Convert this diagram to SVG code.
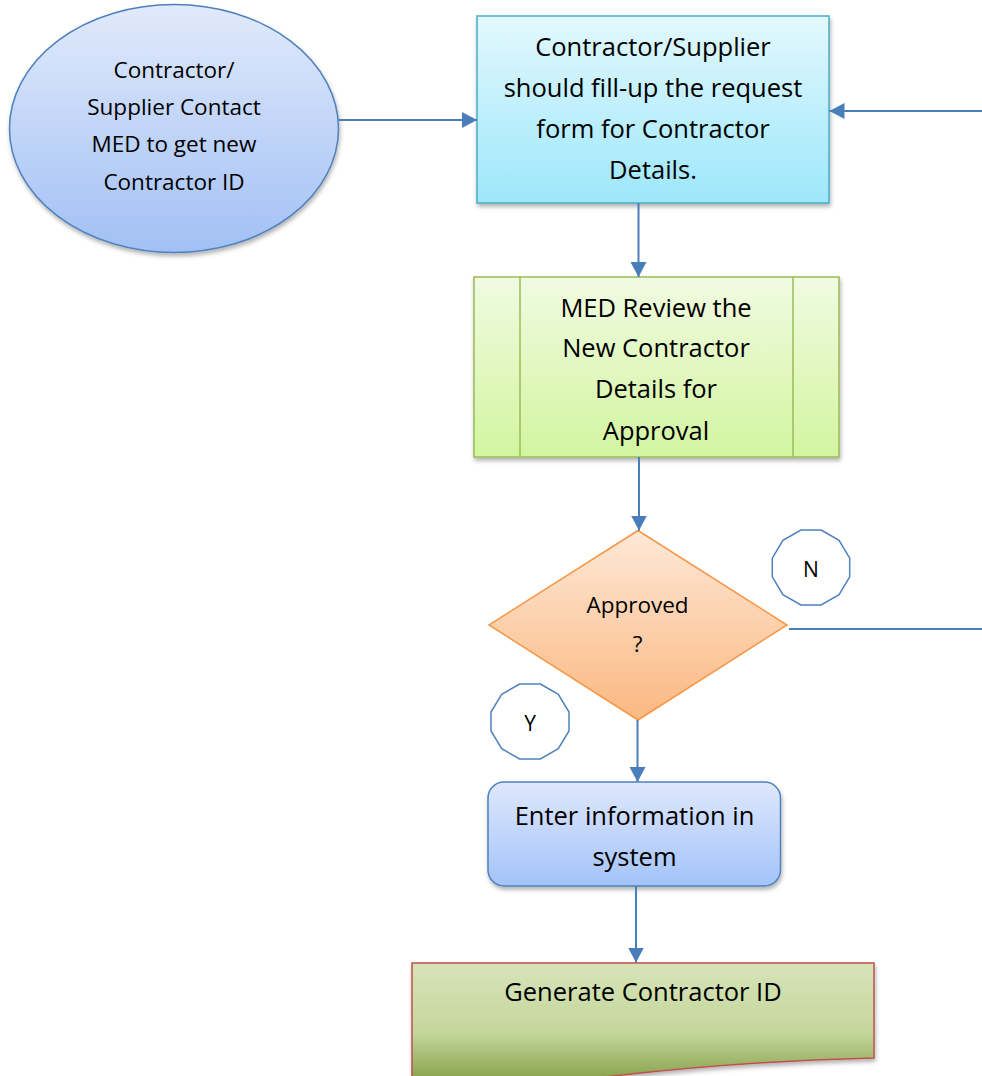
<svg xmlns="http://www.w3.org/2000/svg" width="982" height="1076" viewBox="0 0 982 1076">
<defs>
<style>
text{font-family:"Open Sans","Noto Sans","Liberation Sans",sans-serif;fill:#000;text-anchor:middle}
.conn{stroke:#4a7ebb;stroke-width:2;fill:none}
.t25{font-size:25.5px}
.t23{font-size:22.5px}
.t21{font-size:21px}
</style>
<linearGradient id="gEll" x1="0" y1="0" x2="0" y2="1"><stop offset="0" stop-color="#e1eafb"/><stop offset="1" stop-color="#a2c0f5"/></linearGradient>
<linearGradient id="gCyan" x1="0" y1="0" x2="0" y2="1"><stop offset="0" stop-color="#e3f8fd"/><stop offset="1" stop-color="#9de7fb"/></linearGradient>
<linearGradient id="gGreen" x1="0" y1="0" x2="0" y2="1"><stop offset="0" stop-color="#f0fbe1"/><stop offset="1" stop-color="#d3f5a0"/></linearGradient>
<linearGradient id="gOrange" x1="0" y1="0" x2="0" y2="1"><stop offset="0" stop-color="#fee8d7"/><stop offset="1" stop-color="#fbb881"/></linearGradient>
<linearGradient id="gBlue" x1="0" y1="0" x2="0" y2="1"><stop offset="0" stop-color="#dfe8fc"/><stop offset="1" stop-color="#a3c3f9"/></linearGradient>
<linearGradient id="gDoc" gradientUnits="userSpaceOnUse" x1="0" y1="963" x2="0" y2="1080"><stop offset="0" stop-color="#d7e4b9"/><stop offset="0.6" stop-color="#c4d69b"/><stop offset="1" stop-color="#87a24c"/></linearGradient>
<filter id="sh" x="-10%" y="-10%" width="120%" height="130%"><feDropShadow dx="1" dy="3" stdDeviation="2" flood-color="#000" flood-opacity="0.3"/></filter>
<marker id="arr" markerUnits="userSpaceOnUse" markerWidth="16" markerHeight="16" refX="15" refY="8" orient="auto"><path d="M0,0 L15,8 L0,16 Z" fill="#4a7ebb"/></marker>
</defs>

<g id="start">
<ellipse cx="174" cy="128.5" rx="164.5" ry="124" fill="url(#gEll)" stroke="#4f81bd" stroke-width="1.5" filter="url(#sh)"/>
<text class="t23" x="174" y="78">Contractor/</text>
<text class="t23" x="174" y="115">Supplier Contact</text>
<text class="t23" x="174" y="152">MED to get new</text>
<text class="t23" x="174" y="190">Contractor ID</text>
</g>

<g id="fill-form">
<rect x="477" y="16" width="352" height="187" fill="url(#gCyan)" stroke="#4bacc6" stroke-width="1.5" filter="url(#sh)"/>
<text class="t25" x="653" y="56">Contractor/Supplier</text>
<text class="t25" x="653" y="97">should fill-up the request</text>
<text class="t25" x="653" y="138">form for Contractor</text>
<text class="t25" x="653" y="179">Details.</text>
</g>

<g id="review">
<rect x="474" y="277" width="365" height="180" fill="url(#gGreen)" stroke="#9bbb59" stroke-width="1.5" filter="url(#sh)"/>
<line x1="520" y1="277" x2="520" y2="457" stroke="#9bbb59" stroke-width="1.5"/>
<line x1="793" y1="277" x2="793" y2="457" stroke="#9bbb59" stroke-width="1.5"/>
<text class="t25" x="656" y="317">MED Review the</text>
<text class="t25" x="656" y="357">New Contractor</text>
<text class="t25" x="656" y="398">Details for</text>
<text class="t25" x="656" y="440">Approval</text>
</g>

<g id="decision">
<polygon points="638,530.5 787,625 638,720 489,625" fill="url(#gOrange)" stroke="#f79646" stroke-width="1.5"/>
<text class="t23" x="637.5" y="613">Approved</text>
<text class="t23" x="637.5" y="652">?</text>
</g>

<g id="label-n">
<polygon points="821.1,530 839.1,540.4 849.7,558.2 849.7,576.8 839.1,594.6 821.1,605 800.9,605 782.9,594.6 772.3,576.8 772.3,558.2 782.9,540.4 800.9,530" fill="#fff" stroke="#4f81bd" stroke-width="1.5"/>
<text class="t21" x="811" y="576.5">N</text>
</g>

<g id="label-y">
<polygon points="540.4,684 558.3,694.4 569,712 569,731 558.3,748.6 540.4,759 519.6,759 501.7,748.6 491,731 491,712 501.7,694.4 519.6,684" fill="#fff" stroke="#4f81bd" stroke-width="1.5"/>
<text class="t21" x="530" y="730.5">Y</text>
</g>

<g id="enter-info">
<rect x="488" y="782" width="292.5" height="104" rx="16" ry="16" fill="url(#gBlue)" stroke="#4f81bd" stroke-width="1.5" filter="url(#sh)"/>
<text class="t25" x="634.5" y="825">Enter information in</text>
<text class="t25" x="634.5" y="866">system</text>
</g>

<g id="generate-id">
<path d="M412,963 H874 V1058 C780,1060 700,1066 613,1076 C540,1084 470,1088 412,1086 Z" fill="url(#gDoc)" stroke="#c0504d" stroke-width="1.5" filter="url(#sh)"/>
<text class="t25" x="643" y="1001">Generate Contractor ID</text>
</g>

<g id="connectors">
<path class="conn" d="M338.5,120 H477" marker-end="url(#arr)"/>
<path class="conn" d="M982,111 H829.5" marker-end="url(#arr)"/>
<path class="conn" d="M638.5,203 V277" marker-end="url(#arr)"/>
<path class="conn" d="M639,457 V530.5" marker-end="url(#arr)"/>
<path class="conn" d="M789,629 H982"/>
<path class="conn" d="M637.5,720 V782" marker-end="url(#arr)"/>
<path class="conn" d="M636,886 V962.5" marker-end="url(#arr)"/>
</g>
</svg>
